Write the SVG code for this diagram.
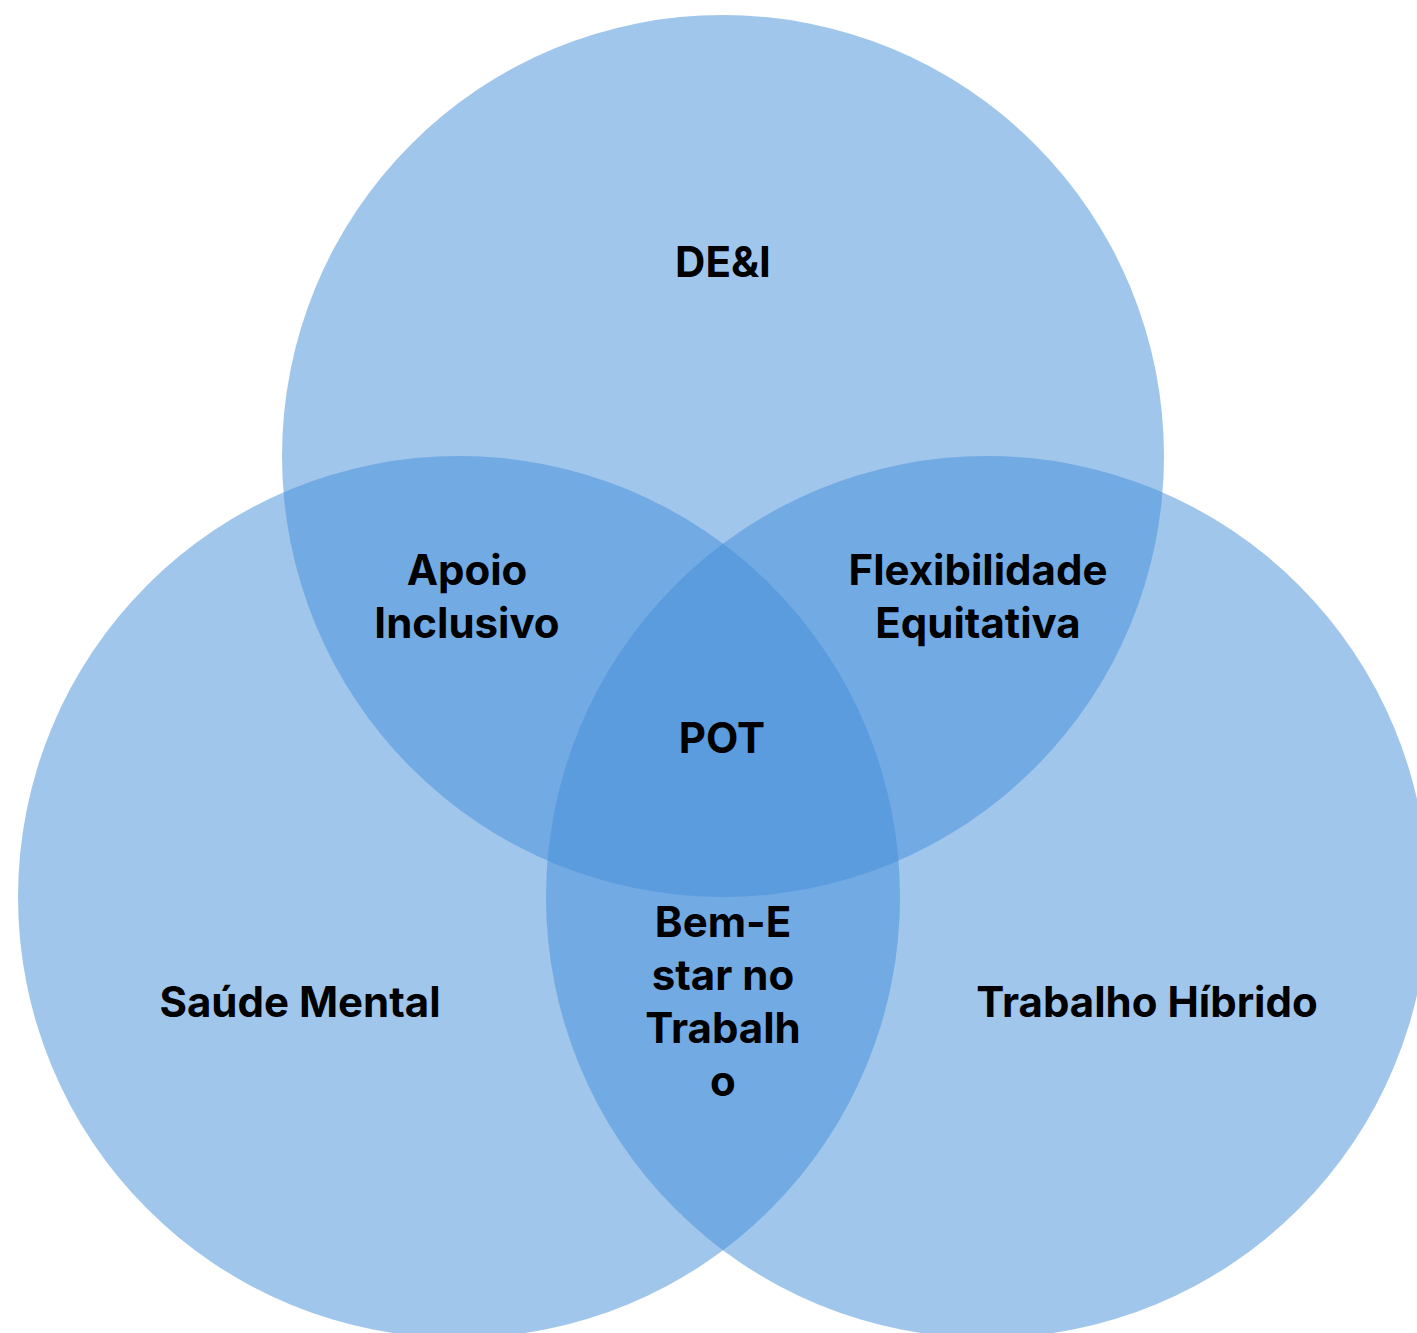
<svg xmlns="http://www.w3.org/2000/svg" width="1417" height="1333" viewBox="0 0 1417 1333">
<style>
.c{fill:#438DD9;fill-opacity:0.5}
.t{font-family:Inter,"Liberation Sans",sans-serif;font-weight:700;font-size:42px;fill:#000;text-anchor:middle}
</style>
<rect width="1417" height="1333" fill="#fff"/>
<g id="circle-dei"><circle class="c" cx="723" cy="456" r="441"/></g>
<g id="circle-saude"><circle class="c" cx="459" cy="897" r="441"/></g>
<g id="circle-trabalho"><circle class="c" cx="987" cy="897" r="441"/></g>
<g id="connectors"/>
<g id="label-dei"><text class="t" x="723" y="277">DE&amp;I</text></g>
<g id="label-apoio"><text class="t" x="467" y="585">Apoio</text><text class="t" x="467" y="638">Inclusivo</text></g>
<g id="label-flex"><text class="t" x="978" y="585">Flexibilidade</text><text class="t" x="978" y="638">Equitativa</text></g>
<g id="label-pot"><text class="t" x="722" y="753">POT</text></g>
<g id="label-saude"><text class="t" x="300" y="1017">Saúde Mental</text></g>
<g id="label-hibrido"><text class="t" x="1147" y="1017">Trabalho Híbrido</text></g>
<g id="label-bem"><text class="t" x="723" y="937">Bem-E</text><text class="t" x="723" y="990">star no</text><text class="t" x="723" y="1043">Trabalh</text><text class="t" x="723" y="1096">o</text></g>
</svg>
